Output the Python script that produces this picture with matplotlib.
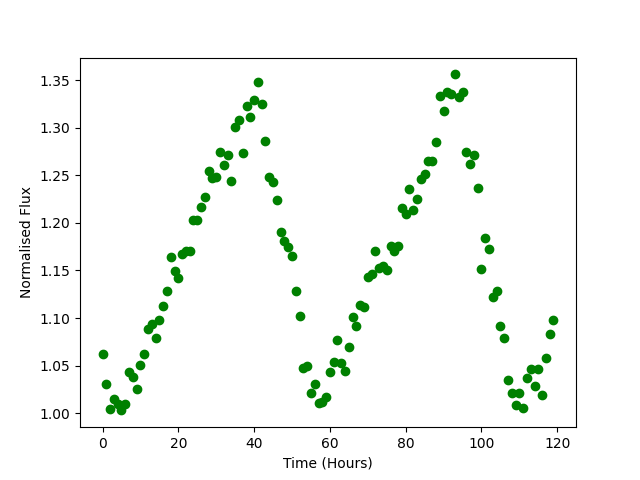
from matplotlib import pyplot as plt
import numpy as np

#Hourly time steps
hours = np.arange(0, 120)

#Normalised flux
flux = [1.062, 1.031, 1.004, 1.015, 1.010, 1.003, 1.010, 1.043, 1.038, 1.025,
        1.051, 1.062, 1.089, 1.094, 1.079, 1.098, 1.113, 1.128, 1.164, 1.149,
        1.142, 1.167, 1.170, 1.170, 1.203, 1.203, 1.217, 1.227, 1.254, 1.247,
        1.248, 1.274, 1.261, 1.271, 1.244, 1.301, 1.308, 1.273, 1.323, 1.311,
        1.329, 1.348, 1.325, 1.286, 1.248, 1.243, 1.224, 1.190, 1.181, 1.175,
        1.165, 1.128, 1.102, 1.048, 1.050, 1.021, 1.031, 1.011, 1.012, 1.017,
        1.043, 1.054, 1.077, 1.053, 1.044, 1.070, 1.101, 1.092, 1.114, 1.112,
        1.143, 1.146, 1.170, 1.153, 1.155, 1.151, 1.176, 1.170, 1.176, 1.216,
        1.209, 1.236, 1.214, 1.225, 1.246, 1.251, 1.265, 1.265, 1.285, 1.333,
        1.318, 1.338, 1.335, 1.356, 1.332, 1.337, 1.274, 1.262, 1.271, 1.237,
        1.152, 1.184, 1.173, 1.122, 1.128, 1.092, 1.079, 1.035, 1.021, 1.009,
        1.021, 1.006, 1.037, 1.047, 1.029, 1.046, 1.019, 1.058, 1.083, 1.098]

plt.figure(figsize=(6.4, 4.8), dpi=100)

plt.plot(hours, flux, "go")

plt.xlabel("Time (Hours)")
plt.ylabel("Normalised Flux")

plt.savefig("out.png", dpi=100)
